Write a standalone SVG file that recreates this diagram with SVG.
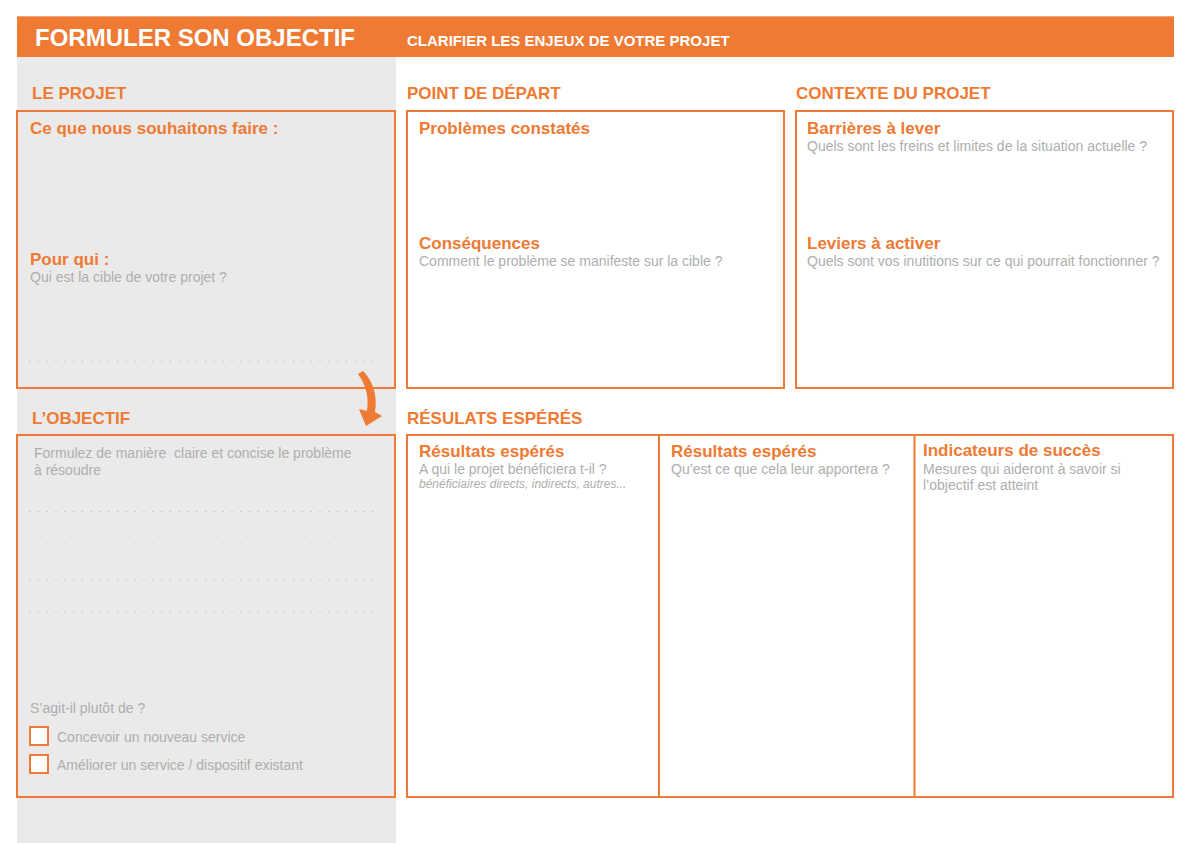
<svg xmlns="http://www.w3.org/2000/svg" width="1191" height="843" viewBox="0 0 1191 843">
<style>
.h{font-family:"Liberation Sans",Arial,sans-serif;font-weight:bold;fill:#EE7A33;font-size:17px}
.t{font-family:"Liberation Sans",Arial,sans-serif;font-weight:bold;fill:#EE7A33;font-size:17px}
.g{font-family:"Liberation Sans",Arial,sans-serif;fill:#AEAEAE;font-size:14px}
.i{font-family:"Liberation Sans",Arial,sans-serif;fill:#AEAEAE;font-size:12px;font-style:italic}
.box{fill:none;stroke:#EE7A33;stroke-width:2}
.d1{stroke:#B8B8B8;stroke-width:1;stroke-dasharray:1.2 7.6}
.d2{stroke:#D2D2D2;stroke-width:1;stroke-dasharray:1.2 7.6}
</style>
<rect width="1191" height="843" fill="#FFFFFF"/>
<g id="header">
<rect x="17" y="16" width="1157" height="41" fill="#EE7A33"/>
<line x1="17" y1="16.5" x2="1174" y2="16.5" stroke="#F3A57A" stroke-width="1"/>
<text x="35" y="46" font-family="Liberation Sans,Arial,sans-serif" font-weight="bold" font-size="24" fill="#FFFFFF">FORMULER SON OBJECTIF</text>
<text x="407" y="46" font-family="Liberation Sans,Arial,sans-serif" font-weight="bold" font-size="15" fill="#FFFFFF">CLARIFIER LES ENJEUX DE VOTRE PROJET</text>
</g>
<rect id="left-panel" x="17" y="57" width="379" height="786" fill="#EAEAEA"/>
<g id="projet">
<text class="h" x="32" y="99">LE PROJET</text>
<rect class="box" x="17" y="111" width="378" height="277"/>
<text class="t" x="30" y="134">Ce que nous souhaitons faire :</text>
<line class="d2" x1="29" y1="165.5" x2="378" y2="165.5"/>
<line class="d2" x1="29" y1="197.5" x2="378" y2="197.5"/>
<line class="d2" x1="29" y1="229.5" x2="378" y2="229.5"/>
<text class="t" x="30" y="265">Pour qui :</text>
<text class="g" x="30" y="282">Qui est la cible de votre projet ?</text>
<line class="d2" x1="29" y1="298.5" x2="378" y2="298.5"/>
<line class="d2" x1="29" y1="330.5" x2="378" y2="330.5"/>
<line class="d1" x1="29" y1="361.5" x2="378" y2="361.5"/>
</g>
<g id="objectif">
<text class="h" x="32" y="424">L’OBJECTIF</text>
<rect class="box" x="17" y="435" width="378" height="362"/>
<text class="g" x="34" y="458" xml:space="preserve">Formulez de manière  claire et concise le problème</text>
<text class="g" x="34" y="475">à résoudre</text>
<line class="d1" x1="29" y1="511.5" x2="378" y2="511.5"/>
<line class="d2" x1="29" y1="543.5" x2="378" y2="543.5"/>
<line class="d1" x1="29" y1="579.5" x2="378" y2="579.5"/>
<line class="d1" x1="29" y1="612.5" x2="378" y2="612.5"/>
<line class="d2" x1="29" y1="644.5" x2="378" y2="644.5"/>
<line class="d2" x1="29" y1="677.5" x2="378" y2="677.5"/>
<text class="g" x="30" y="713">S’agit-il plutôt de ?</text>
<rect x="30" y="727" width="18" height="18" fill="#FFFFFF" stroke="#EE7A33" stroke-width="2"/>
<text class="g" x="57" y="742">Concevoir un nouveau service</text>
<rect x="30" y="755" width="18" height="18" fill="#FFFFFF" stroke="#EE7A33" stroke-width="2"/>
<text class="g" x="57" y="770">Améliorer un service / dispositif existant</text>
</g>
<g id="connectors">
<path d="M358,374 L363,371 C372,380 378,394 375,412 L382,416 L366,426 L359,409 L367,411 C369,397 366,385 358,374 Z" fill="#EE7A33"/>
</g>
<g id="point-de-depart">
<text class="h" x="407" y="99">POINT DE DÉPART</text>
<rect class="box" x="407" y="111" width="377" height="277"/>
<text class="t" x="419" y="134">Problèmes constatés</text>
<text class="t" x="419" y="249">Conséquences</text>
<text class="g" x="419" y="266">Comment le problème se manifeste sur la cible ?</text>
</g>
<g id="contexte">
<text class="h" x="796" y="99">CONTEXTE DU PROJET</text>
<rect class="box" x="796" y="111" width="377" height="277"/>
<text class="t" x="807" y="134">Barrières à lever</text>
<text class="g" x="807" y="151">Quels sont les freins et limites de la situation actuelle ?</text>
<text class="t" x="807" y="249">Leviers à activer</text>
<text class="g" x="807" y="266">Quels sont vos inutitions sur ce qui pourrait fonctionner ?</text>
</g>
<g id="resultats">
<text class="h" x="407" y="424">RÉSULATS ESPÉRÉS</text>
<rect class="box" x="407" y="435" width="766" height="362"/>
<line x1="659" y1="435" x2="659" y2="797" stroke="#EE7A33" stroke-width="2"/>
<line x1="914.5" y1="435" x2="914.5" y2="797" stroke="#EE7A33" stroke-width="2"/>
<text class="t" x="419" y="457">Résultats espérés</text>
<text class="g" x="419" y="474">A qui le projet bénéficiera t-il ?</text>
<text class="i" x="419" y="488">bénéficiaires directs, indirects, autres...</text>
<text class="t" x="671" y="457">Résultats espérés</text>
<text class="g" x="671" y="474">Qu’est ce que cela leur apportera ?</text>
<text class="t" x="923" y="456">Indicateurs de succès</text>
<text class="g" x="923" y="474">Mesures qui aideront à savoir si</text>
<text class="g" x="923" y="490">l’objectif est atteint</text>
</g>
</svg>
